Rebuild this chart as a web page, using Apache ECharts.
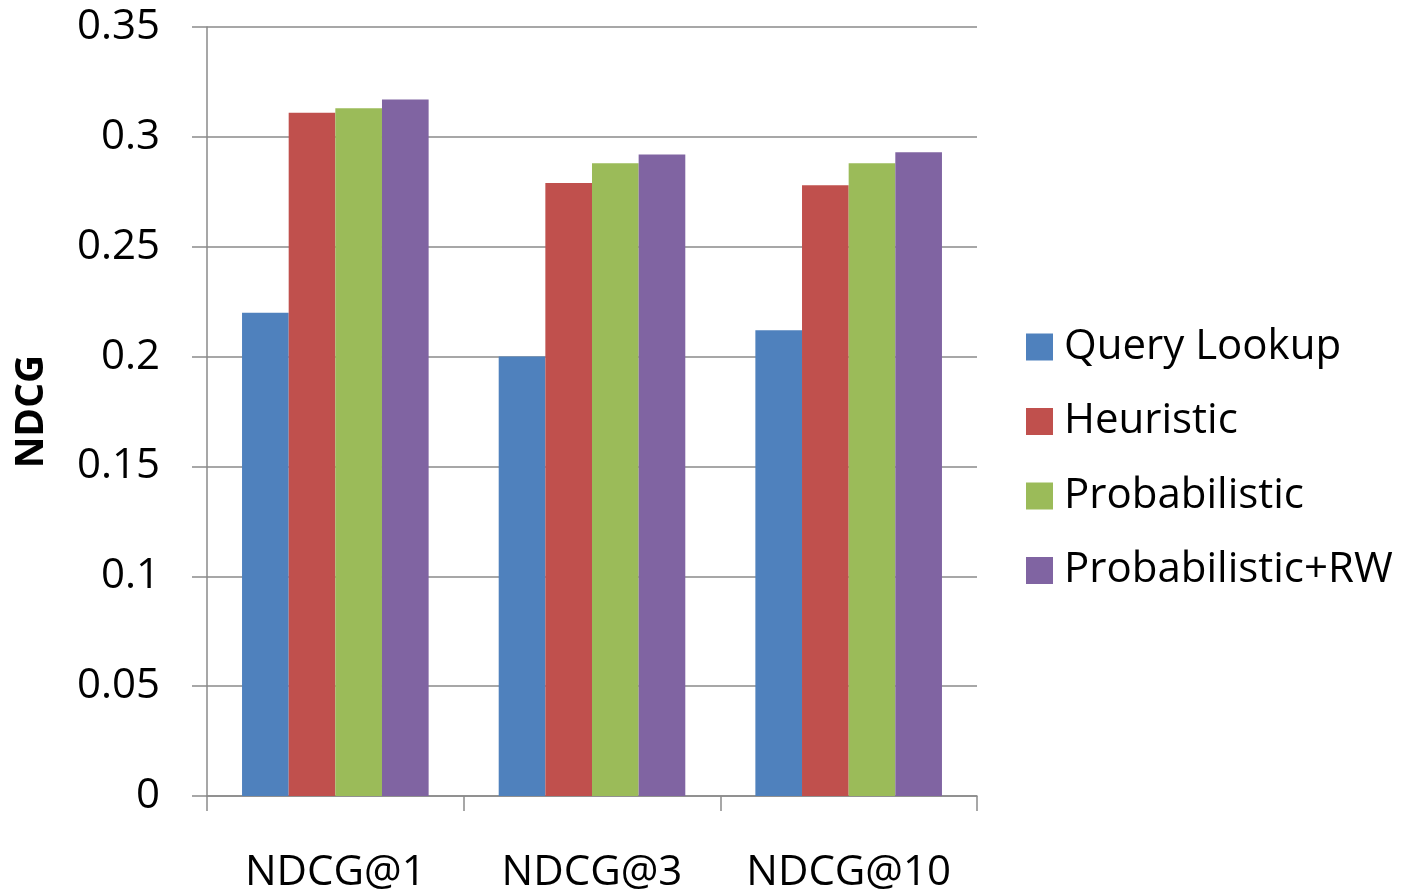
<!DOCTYPE html>
<html>
<head>
<meta charset="utf-8">
<script src="https://cdn.jsdelivr.net/npm/echarts@6/dist/echarts.min.js"></script>
<style>
  html, body { margin: 0; padding: 0; background: #ffffff; }
  #chart { width: 1401px; height: 894px; }
</style>
</head>
<body>
<div id="chart"></div>
<script>
// NDCG scores per cutoff for each ranking method
const categories = ['NDCG@1', 'NDCG@3', 'NDCG@10'];
const seriesNames = ['Query Lookup', 'Heuristic', 'Probabilistic', 'Probabilistic+RW'];
const queryLookup = [0.220, 0.200, 0.212];
const heuristic = [0.311, 0.279, 0.278];
const probabilistic = [0.313, 0.288, 0.288];
const probabilisticRW = [0.317, 0.292, 0.293];
const colors = ['#4F81BD', '#C0504D', '#9BBB59', '#8064A2'];

const values = [queryLookup, heuristic, probabilistic, probabilisticRW];
const FONT = '"Open Sans", "Liberation Sans", sans-serif';
const GRID_COLOR = '#8a8a8a';

const chart = echarts.init(document.getElementById('chart'), null, { renderer: 'canvas' });

chart.setOption({
  animation: false,
  backgroundColor: '#ffffff',
  grid: { left: 207, right: 424, top: 27, bottom: 98, containLabel: false },
  legend: {
    orient: 'vertical',
    left: 1026,
    top: 326,
    padding: 0,
    icon: 'rect',
    itemWidth: 27,
    itemHeight: 27,
    itemGap: 32.5,
    data: seriesNames,
    textStyle: {
      fontFamily: FONT,
      fontSize: 42,
      color: '#000000',
      padding: [0, 0, 0, 6]
    }
  },
  xAxis: {
    type: 'category',
    data: categories,
    axisLine: { show: true, lineStyle: { color: GRID_COLOR, width: 1.5 } },
    axisTick: { show: true, interval: 0, length: 15, alignWithLabel: false, lineStyle: { color: GRID_COLOR, width: 1.5 } },
    axisLabel: { interval: 0, fontFamily: FONT, fontSize: 42, color: '#000000', margin: 56 },
    splitLine: { show: false }
  },
  yAxis: {
    type: 'value',
    min: 0,
    max: 0.35,
    interval: 0.05,
    name: 'NDCG',
    nameLocation: 'middle',
    nameGap: 156,
    nameRotate: 90,
    nameTextStyle: { fontFamily: FONT, fontSize: 39, fontWeight: 'bold', color: '#000000' },
    axisLine: { show: true, lineStyle: { color: GRID_COLOR, width: 1.5 } },
    axisTick: { show: true, length: 15, inside: false, lineStyle: { color: GRID_COLOR, width: 1.5 } },
    axisLabel: { fontFamily: FONT, fontSize: 42, color: '#000000', margin: 47 },
    splitLine: { show: true, lineStyle: { color: GRID_COLOR, width: 1.5 } }
  },
  series: seriesNames.map((name, i) => ({
    name: name,
    type: 'bar',
    data: values[i],
    barGap: '0%',
    barCategoryGap: '27.3%',
    itemStyle: { color: colors[i] }
  }))
});
</script>
</body>
</html>
